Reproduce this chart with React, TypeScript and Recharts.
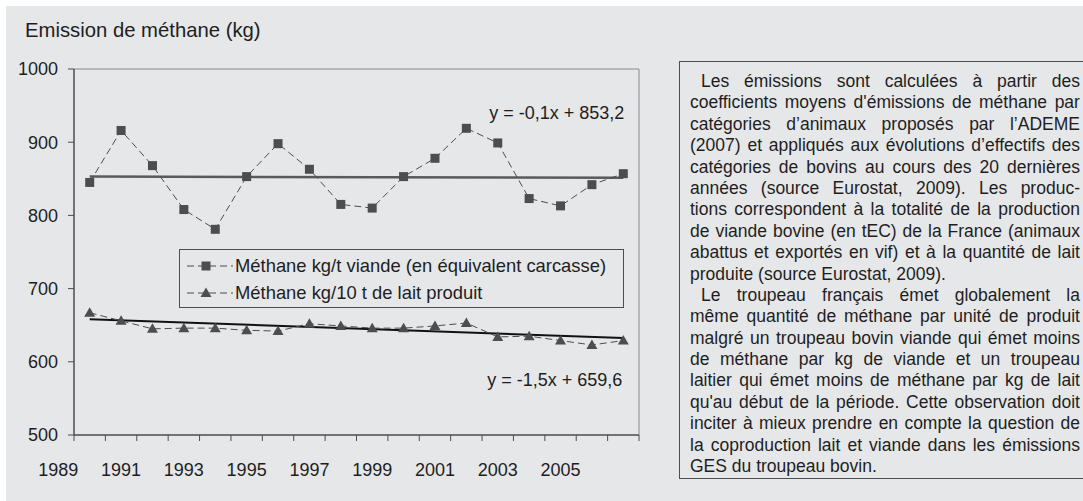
import React from 'react';
import { LineChart, Line, XAxis, YAxis, ReferenceLine, ReferenceDot, Legend } from 'recharts';

const years = [1990, 1991, 1992, 1993, 1994, 1995, 1996, 1997, 1998, 1999, 2000, 2001, 2002, 2003, 2004, 2005, 2006, 2007];
const meatValues = [845, 916, 868, 808, 781, 853, 898, 863, 815, 810, 853, 878, 919, 899, 823, 813, 842, 857];
const milkValues = [667, 656, 645, 646, 646, 643, 642, 652, 649, 646, 646, 649, 653, 634, 635, 629, 623, 629];
const meatTrend = [853.1, 851.4];
const milkTrend = [658.1, 632.6];
const meatEquation = 'y = -0,1x + 853,2';
const milkEquation = 'y = -1,5x + 659,6';
const meatName = 'Méthane kg/t viande (en équivalent carcasse)';
const milkName = 'Méthane kg/10 t de lait produit';
const yTicks = [500, 600, 700, 800, 900, 1000];
const xLabelYears = [1989, 1991, 1993, 1995, 1997, 1999, 2001, 2003, 2005];
const xBoundaries = [1989.5, 1990.5, 1991.5, 1992.5, 1993.5, 1994.5, 1995.5, 1996.5, 1997.5, 1998.5, 1999.5, 2000.5, 2001.5, 2002.5, 2003.5, 2004.5, 2005.5, 2006.5, 2007.5];
const title = 'Emission de méthane (kg)';

const paragraph1 = [
  'Les émissions sont calculées à partir des',
  "coefficients moyens d'émissions de méthane par",
  'catégories d’animaux proposés par l’ADEME',
  '(2007) et appliqués aux évolutions d’effectifs des',
  'catégories de bovins au cours des 20 dernières',
  'années (source Eurostat, 2009). Les produc-',
  'tions correspondent à la totalité de la production',
  'de viande bovine (en tEC) de la France (animaux',
  'abattus et exportés en vif) et à la quantité de lait',
  'produite (source Eurostat, 2009).',
];
const paragraph2 = [
  'Le troupeau français émet globalement la',
  'même quantité de méthane par unité de produit',
  'malgré un troupeau bovin viande qui émet moins',
  'de méthane par kg de viande et un troupeau',
  'laitier qui émet moins de méthane par kg de lait',
  "qu'au début de la période. Cette observation doit",
  'inciter à mieux prendre en compte la question de',
  'la coproduction lait et viande dans les émissions',
  'GES du troupeau bovin.',
];

const data = years.map((year, i) => ({ year, meat: meatValues[i], milk: milkValues[i] }));
const xTicks = [...xBoundaries, ...xLabelYears].sort((a, b) => a - b);

const FONT = '"Liberation Sans", Arial, Helvetica, sans-serif';
const BG = '#e6e7e9';
const DARK = '#4d4d4d';
const TEXT = '#1e1e1e';

const SquareDot = (props: any) => {
  const { cx, cy, index } = props;
  if (cx == null || cy == null) return <g key={`s${index}`} />;
  return <rect key={`s${index}`} x={cx - 4.5} y={cy - 4.5} width={9} height={9} fill={DARK} />;
};

const TriangleDot = (props: any) => {
  const { cx, cy, index } = props;
  if (cx == null || cy == null) return <g key={`t${index}`} />;
  return <polygon key={`t${index}`} points={`${cx},${cy - 5.5} ${cx - 5.5},${cy + 4} ${cx + 5.5},${cy + 4}`} fill={DARK} />;
};

const XTick = (props: any) => {
  const { x, y, payload } = props;
  const v = payload.value;
  if (Number.isInteger(v)) {
    return (
      <text x={x} y={y + 35} textAnchor="middle" dominantBaseline="central" fontSize={18} fill={TEXT} fontFamily={FONT}>
        {v}
      </text>
    );
  }
  return <line x1={x} y1={y} x2={x} y2={y + 6} stroke={DARK} strokeWidth={1} />;
};

const LegendSymbol = ({ kind }: { kind: 'square' | 'triangle' }) => (
  <svg width={48} height={20} style={{ display: 'block', flex: '0 0 auto' }}>
    <line x1={1} y1={10} x2={47} y2={10} stroke={DARK} strokeWidth={1} strokeDasharray="7 4" />
    {kind === 'square' ? (
      <rect x={15.5} y={5.5} width={9} height={9} fill={DARK} />
    ) : (
      <polygon points="20,4.5 14.5,14 25.5,14" fill={DARK} />
    )}
  </svg>
);

const renderLegend = () => (
  <div
    style={{
      width: 443,
      height: 55,
      border: `1px solid ${DARK}`,
      background: BG,
      boxSizing: 'content-box',
      fontFamily: FONT,
      fontSize: 18.4,
      color: TEXT,
      paddingTop: 2,
    }}
  >
    {[
      { kind: 'square' as const, name: meatName },
      { kind: 'triangle' as const, name: milkName },
    ].map((it) => (
      <div key={it.name} style={{ display: 'flex', alignItems: 'center', height: 27, paddingLeft: 6 }}>
        <LegendSymbol kind={it.kind} />
        <span style={{ marginLeft: 1, lineHeight: '20px', whiteSpace: 'nowrap' }}>{it.name}</span>
      </div>
    ))}
  </div>
);

const Para = ({ lines }: { lines: string[] }) => (
  <div>
    {lines.map((l, i) => {
      const last = i === lines.length - 1;
      const indent = i === 0 ? 11 : 0;
      if (last) {
        return (
          <div key={i} style={{ height: 21.4, lineHeight: '21.4px', whiteSpace: 'nowrap', paddingLeft: indent }}>
            {l}
          </div>
        );
      }
      return (
        <div
          key={i}
          style={{
            display: 'flex',
            justifyContent: 'space-between',
            width: 390 - indent,
            marginLeft: indent,
            height: 21.4,
            lineHeight: '21.4px',
            whiteSpace: 'nowrap',
          }}
        >
          {l.split(' ').map((w, j) => (
            <span key={j}>{w}</span>
          ))}
        </div>
      );
    })}
  </div>
);

export default function App() {
  return (
    <div
      style={{
        position: 'absolute',
        left: 0,
        top: 0,
        width: 1083,
        height: 501,
        background: '#ffffff',
        overflow: 'hidden',
        fontFamily: FONT,
      }}
    >
      <div style={{ position: 'absolute', left: 6, top: 6, width: 1077, height: 495, background: BG }} />
      <div
        style={{
          position: 'absolute',
          left: 25,
          top: 17,
          fontSize: 20.3,
          lineHeight: '26px',
          color: TEXT,
          whiteSpace: 'nowrap',
        }}
      >
        {title}
      </div>
      <div style={{ position: 'absolute', left: 0, top: 0 }}>
        <LineChart width={660} height={480} data={data} margin={{ top: 69, right: 21, bottom: 0, left: 0 }}>
          <XAxis
            dataKey="year"
            type="number"
            domain={[1989.5, 2007.5]}
            ticks={xTicks}
            interval={0}
            tickLine={false}
            tickSize={0}
            tickMargin={0}
            tick={<XTick />}
            height={45}
            axisLine={{ stroke: DARK, strokeWidth: 1.5 }}
            allowDataOverflow
          />
          <YAxis
            type="number"
            domain={[500, 1000]}
            ticks={yTicks}
            interval={0}
            width={74}
            tickSize={6}
            tickMargin={10}
            tickLine={{ stroke: DARK, strokeWidth: 1 }}
            axisLine={{ stroke: DARK, strokeWidth: 1.5 }}
            tick={{ fontSize: 18, fill: TEXT, fontFamily: FONT }}
          />
          <ReferenceLine y={1000} stroke="#a9a9a9" strokeWidth={1.5} />
          <ReferenceLine x={2007.5} stroke="#a9a9a9" strokeWidth={1.5} />
          <ReferenceLine
            segment={[
              { x: years[0], y: meatTrend[0] },
              { x: years[years.length - 1], y: meatTrend[1] },
            ]}
            stroke="#5a5a5a"
            strokeWidth={2.5}
          />
          <ReferenceLine
            segment={[
              { x: years[0], y: milkTrend[0] },
              { x: years[years.length - 1], y: milkTrend[1] },
            ]}
            stroke="#111111"
            strokeWidth={2}
          />
          <Line
            dataKey="meat"
            name={meatName}
            stroke={DARK}
            strokeWidth={1}
            strokeDasharray="7 4"
            dot={<SquareDot />}
            activeDot={false}
            isAnimationActive={false}
          />
          <Line
            dataKey="milk"
            name={milkName}
            stroke={DARK}
            strokeWidth={1}
            strokeDasharray="7 4"
            dot={<TriangleDot />}
            activeDot={false}
            isAnimationActive={false}
          />
          <ReferenceDot
            x={2007}
            y={941}
            r={0}
            fill="none"
            stroke="none"
            label={{ value: meatEquation, position: 'left', offset: -1, fontSize: 18, fill: TEXT, fontFamily: FONT }}
          />
          <ReferenceDot
            x={2007}
            y={575}
            r={0}
            fill="none"
            stroke="none"
            label={{ value: milkEquation, position: 'left', offset: 1, fontSize: 18, fill: TEXT, fontFamily: FONT }}
          />
          <Legend
            layout="vertical"
            align="center"
            verticalAlign="middle"
            content={renderLegend}
            wrapperStyle={{ position: 'absolute', left: 179, top: 249, width: 'auto', height: 'auto' }}
          />
        </LineChart>
      </div>
      <div
        style={{
          position: 'absolute',
          left: 679,
          top: 61,
          width: 420,
          height: 418,
          border: `1px solid ${DARK}`,
          paddingLeft: 10,
          paddingTop: 9,
          boxSizing: 'border-box',
          fontSize: 17.5,
          color: TEXT,
        }}
      >
        <Para lines={paragraph1} />
        <Para lines={paragraph2} />
      </div>
    </div>
  );
}
